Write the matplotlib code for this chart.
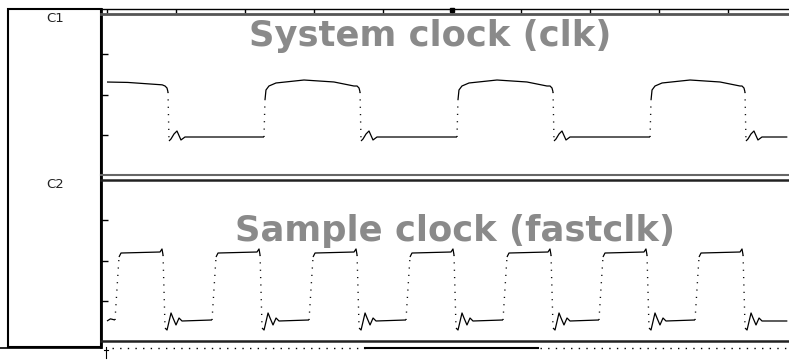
import matplotlib
matplotlib.use("Agg")
import matplotlib.pyplot as plt
import numpy as np

# ---------------- data (x in divisions, y in divisions) ----------------
ch_labels = ["C1", "C2"]
titles = ["System clock (clk)", "Sample clock (fastclk)"]
div_ticks = [0, 1, 2, 3, 4, 5, 6, 7, 8, 9]
volt_ticks = [1, 2, 3]

# System clock: edge times (div)
clk_start_level = [2.31, 2.30, 2.24]
clk_start_t = [0.0, 0.30, 0.80]
clk_rise = [2.275, 5.072, 7.870]
clk_fall = [0.884, 3.667, 6.464, 9.246]
clk_low = 0.944
clk_end_t = 9.86
# shape after a rising edge (dt, v); second point ends the dotted edge
clk_rise_dt = [0.0, 0.0145, 0.029, 0.072, 0.174, 0.58, 1.014, 1.304]
clk_rise_v = [0.944, 1.863, 2.112, 2.211, 2.286, 2.360, 2.311, 2.211]
# shape around a falling edge (dt, v); edge goes from index 2 to 3
clk_fall_dt = [-0.043, -0.0145, 0.0, 0.0145, 0.043, 0.087, 0.130, 0.188, 0.246]
clk_fall_v = [2.211, 2.161, 2.062, 0.845, 0.894, 1.019, 1.093, 0.870, 0.944]

# Sample clock: rising edge times (div)
fclk_rise = [0.116, 1.522, 2.928, 4.333, 5.739, 7.130, 8.522]
fclk_low = 0.497
fclk_end_t = 9.86
# shape of one pulse after a rising edge (dt, v); edges idx 0->1 and 5->6
fclk_dt = [0.0, 0.058, 0.087, 0.652, 0.681, 0.696, 0.725, 0.754, 0.812, 0.841, 0.884, 0.928, 0.971]
fclk_v = [0.522, 2.087, 2.186, 2.211, 2.286, 2.137, 0.323, 0.273, 0.696, 0.571, 0.398, 0.571, 0.497]

W, H = 789, 360
fig = plt.figure(figsize=(W / 100, H / 100), dpi=100)
fig.patch.set_facecolor("white")


def fax(l, t, r, b):
    return [l / W, 1 - b / H, (r - l) / W, (b - t) / H]


XL = (-0.087, 9.884)
ax1 = fig.add_axes(fax(101, 14, 789, 175))
ax2 = fig.add_axes(fax(101, 180, 789, 341))
for ax in (ax1, ax2):
    ax.set_xlim(*XL)
    ax.set_ylim(0, 4)
    ax.patch.set_alpha(0)
    for s in ax.spines.values():
        s.set_visible(False)
    ax.set_xticks([])
    ax.set_yticks(volt_ticks)
    ax.tick_params(axis="y", direction="in", length=5, width=1, color="black", labelleft=False)

solid_kw = dict(color="black", lw=0.9, solid_capstyle="butt")
dot_kw = dict(color="black", lw=1.0, linestyle=(0, (0.8, 4.5)))


def draw(ax, segs_solid, segs_dot):
    for t, v in segs_solid:
        ax.plot(t, v, **solid_kw)
    for t, v in segs_dot:
        ax.plot(t, v, **dot_kw)


# ---- build clk polyline pieces
solid, dotted = [], []
cur_t, cur_v = list(clk_start_t), list(clk_start_level)
events = sorted([(t, "f") for t in clk_fall] + [(t, "r") for t in clk_rise])
for t0, kind in events:
    if kind == "f":
        pre_t = [t0 + d for d in clk_fall_dt[:3]]
        pre_v = clk_fall_v[:3]
        solid.append((cur_t + pre_t, cur_v + pre_v))
        dotted.append(([t0 + clk_fall_dt[2], t0 + clk_fall_dt[3]], [clk_fall_v[2], clk_fall_v[3]]))
        cur_t = [t0 + d for d in clk_fall_dt[3:]]
        cur_v = list(clk_fall_v[3:])
    else:
        solid.append((cur_t + [t0], cur_v + [clk_low]))
        dotted.append(([t0 + clk_rise_dt[0], t0 + clk_rise_dt[1]], [clk_rise_v[0], clk_rise_v[1]]))
        cur_t = [t0 + d for d in clk_rise_dt[1:]]
        cur_v = list(clk_rise_v[1:])
solid.append((cur_t + [clk_end_t], cur_v + [clk_low]))
draw(ax1, solid, dotted)

# ---- build fastclk polyline pieces
solid, dotted = [], []
cur_t, cur_v = [0.0, 0.05], [fclk_low, 0.55]
for t0 in fclk_rise:
    tt = [t0 + d for d in fclk_dt]
    solid.append((cur_t + [tt[0]], cur_v + [fclk_v[0]]))
    dotted.append((tt[0:2], fclk_v[0:2]))
    solid.append((tt[1:6], fclk_v[1:6]))
    dotted.append((tt[5:7], fclk_v[5:7]))
    cur_t, cur_v = tt[6:], list(fclk_v[6:])
solid.append((cur_t + [fclk_end_t], cur_v + [fclk_low]))
draw(ax2, solid, dotted)

# ---- ruler on top
axr = fig.add_axes(fax(101, 9, 789, 14))
axr.set_xlim(*XL)
axr.set_ylim(0, 1)
axr.patch.set_alpha(0)
for k in ("left", "right", "bottom"):
    axr.spines[k].set_visible(False)
axr.spines["top"].set_linewidth(1.0)
axr.set_yticks([])
axr.set_xticks(div_ticks)
axr.tick_params(axis="x", top=True, bottom=False, direction="in", length=3, width=1,
                labeltop=False, labelbottom=False)
axr.plot([5], [0.85], marker="s", ms=3, color="black", clip_on=False)

# ---- overlay decorations in pixel coordinates
ov = fig.add_axes([0, 0, 1, 1])
ov.set_xlim(0, W)
ov.set_ylim(H, 0)
ov.axis("off")
ov.patch.set_alpha(0)
ov.add_patch(plt.Rectangle((8, 9), 93, 338, fill=False, lw=1.5, ec="black"))
ov.plot([101, 101], [9, 347], color="black", lw=2.0)
ov.plot([101, 789], [14, 14], color="#555555", lw=2.0)
ov.plot([101, 789], [175, 175], color="#666666", lw=1.5)
ov.plot([101, 789], [179.5, 179.5], color="#222222", lw=1.8)
ov.plot([101, 789], [341, 341], color="#222222", lw=1.8)
ov.plot([0, 101], [347.5, 347.5], color="black", lw=1.2)
ov.plot([112, 365], [348, 348], color="black", lw=1.0, linestyle=(0, (1, 4.5)))
ov.plot([365, 538], [348, 348], color="black", lw=1.5)
ov.plot([540, 789], [348, 348], color="black", lw=1.0, linestyle=(0, (1, 4.5)))
ov.plot([106, 106], [347, 358], color="black", lw=0.8)
ov.plot([104, 108], [350, 350], color="black", lw=0.8)

ov.text(55, 19, ch_labels[0], ha="center", va="center", fontsize=9.5, family="DejaVu Sans", color="#222222")
ov.text(55, 185, ch_labels[1], ha="center", va="center", fontsize=9.5, family="DejaVu Sans", color="#222222")
ov.text(430, 46, titles[0], ha="center", va="baseline", fontsize=25.5, fontweight="bold",
        family="DejaVu Sans", color="#8a8a8a")
ov.text(455, 241, titles[1], ha="center", va="baseline", fontsize=25.5, fontweight="bold",
        family="DejaVu Sans", color="#8a8a8a")

fig.savefig("out.png", dpi=100, facecolor="white")
